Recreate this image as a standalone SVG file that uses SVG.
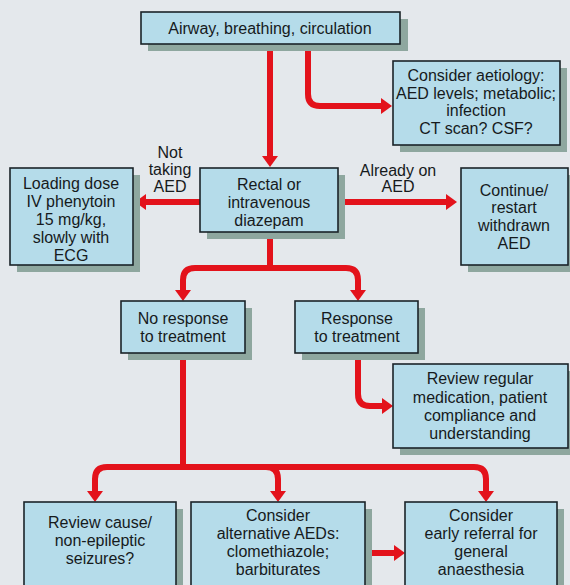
<svg xmlns="http://www.w3.org/2000/svg" width="570" height="585" viewBox="0 0 570 585">
<defs>
<marker id="ah" markerUnits="userSpaceOnUse" markerWidth="11" markerHeight="16" viewBox="0 0 11 16" refX="0" refY="8" orient="auto">
<path d="M0,0 L11,8 L0,16 z" fill="#e3121b"/>
</marker>
</defs>
<style>
.bx{fill:#b5dcea;stroke:#1b2328;stroke-width:1.6}
.sh{fill:#8ea79f}
.t{font-family:"Liberation Sans",Arial,sans-serif;font-size:16px;fill:#161a1c;text-anchor:middle}
.c{fill:none;stroke:#e3121b;stroke-width:6;stroke-linejoin:round}
</style>
<rect width="570" height="585" fill="#e4e8ec"/>
<g id="connectors">
<path class="c" d="M270,44 V156" marker-end="url(#ah)"/>
<path class="c" d="M308,44 V94 Q308,106 320,106 H381" marker-end="url(#ah)"/>
<path class="c" d="M200,202 H146" marker-end="url(#ah)"/>
<path class="c" d="M338,202 H446" marker-end="url(#ah)"/>
<path class="c" d="M270,232 V268"/>
<path class="c" d="M270,268 H195 Q183,268 183,280 V290" marker-end="url(#ah)"/>
<path class="c" d="M270,268 H346 Q358,268 358,280 V290" marker-end="url(#ah)"/>
<path class="c" d="M358,353 V394 Q358,406 370,406 H382" marker-end="url(#ah)"/>
<path class="c" d="M183,353 V467"/>
<path class="c" d="M183,467 H107 Q95,467 95,479 V491" marker-end="url(#ah)"/>
<path class="c" d="M183,467 H266 Q278,467 278,479 V491" marker-end="url(#ah)"/>
<path class="c" d="M266,467 H474 Q486,467 486,479 V491" marker-end="url(#ah)"/>
<path class="c" d="M365,553 H394" marker-end="url(#ah)"/>
</g>
<g id="n-abc">
<rect class="sh" x="148" y="19" width="260" height="32"/>
<rect class="bx" x="141" y="12" width="259" height="32"/>
<text class="t" x="270" y="34">Airway, breathing, circulation</text>
</g>
<g id="n-aetiology">
<rect class="sh" x="400" y="68" width="167" height="84"/>
<rect class="bx" x="393" y="61" width="167" height="84"/>
<text class="t" x="476" y="81">Consider aetiology:</text>
<text class="t" x="476" y="99">AED levels; metabolic;</text>
<text class="t" x="476" y="116">infection</text>
<text class="t" x="476" y="134">CT scan? CSF?</text>
</g>
<g id="n-loading">
<rect class="sh" x="17" y="175" width="123" height="97"/>
<rect class="bx" x="10" y="168" width="123" height="97"/>
<text class="t" x="71" y="189">Loading dose</text>
<text class="t" x="71" y="207">IV phenytoin</text>
<text class="t" x="71" y="225">15 mg/kg,</text>
<text class="t" x="71" y="243">slowly with</text>
<text class="t" x="71" y="261">ECG</text>
</g>
<g id="n-diazepam">
<rect class="sh" x="207" y="175" width="138" height="64"/>
<rect class="bx" x="200" y="168" width="138" height="64"/>
<text class="t" x="269" y="190">Rectal or</text>
<text class="t" x="269" y="208">intravenous</text>
<text class="t" x="269" y="226">diazepam</text>
</g>
<g id="n-continue">
<rect class="sh" x="468" y="175" width="107" height="97"/>
<rect class="bx" x="461" y="168" width="107" height="97"/>
<text class="t" x="514" y="196">Continue/</text>
<text class="t" x="514" y="213">restart</text>
<text class="t" x="514" y="231">withdrawn</text>
<text class="t" x="514" y="249">AED</text>
</g>
<g id="labels">
<text class="t" x="170" y="158">Not</text>
<text class="t" x="170" y="175">taking</text>
<text class="t" x="170" y="192">AED</text>
<text class="t" x="398" y="176">Already on</text>
<text class="t" x="398" y="192">AED</text>
</g>
<g id="n-noresp">
<rect class="sh" x="128" y="308" width="124" height="52"/>
<rect class="bx" x="121" y="301" width="124" height="52"/>
<text class="t" x="183" y="324">No response</text>
<text class="t" x="183" y="342">to treatment</text>
</g>
<g id="n-resp">
<rect class="sh" x="302" y="308" width="123" height="52"/>
<rect class="bx" x="295" y="301" width="123" height="52"/>
<text class="t" x="357" y="324">Response</text>
<text class="t" x="357" y="342">to treatment</text>
</g>
<g id="n-review">
<rect class="sh" x="400" y="371" width="175" height="84"/>
<rect class="bx" x="393" y="364" width="175" height="84"/>
<text class="t" x="480" y="384">Review regular</text>
<text class="t" x="480" y="403">medication, patient</text>
<text class="t" x="480" y="421">compliance and</text>
<text class="t" x="480" y="439">understanding</text>
</g>
<g id="n-cause">
<rect class="sh" x="31" y="509" width="152" height="90"/>
<rect class="bx" x="24" y="502" width="152" height="90"/>
<text class="t" x="100" y="528">Review cause/</text>
<text class="t" x="100" y="546">non-epileptic</text>
<text class="t" x="100" y="564">seizures?</text>
</g>
<g id="n-alt">
<rect class="sh" x="198" y="509" width="174" height="90"/>
<rect class="bx" x="191" y="502" width="174" height="90"/>
<text class="t" x="278" y="521">Consider</text>
<text class="t" x="278" y="539">alternative AEDs:</text>
<text class="t" x="278" y="557">clomethiazole;</text>
<text class="t" x="278" y="575">barbiturates</text>
</g>
<g id="n-ga">
<rect class="sh" x="412" y="509" width="152" height="90"/>
<rect class="bx" x="405" y="502" width="152" height="90"/>
<text class="t" x="481" y="521">Consider</text>
<text class="t" x="481" y="539">early referral for</text>
<text class="t" x="481" y="557">general</text>
<text class="t" x="481" y="575">anaesthesia</text>
</g>
</svg>
